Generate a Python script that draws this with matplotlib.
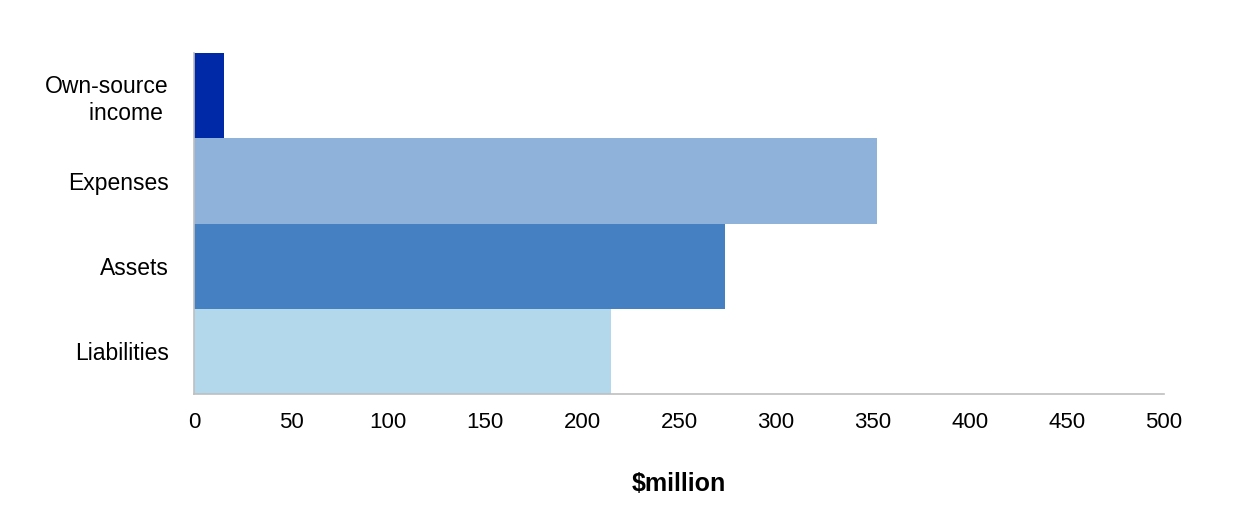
import matplotlib.pyplot as plt

categories = ['Own-source\nincome ', 'Expenses', 'Assets', 'Liabilities']
values = [15.5, 352, 273.5, 215]
colors = ['#0029A8', '#8FB2DA', '#4580C2', '#B3D8EC']
xticks = [0, 50, 100, 150, 200, 250, 300, 350, 400, 450, 500]

plt.rcParams['font.family'] = ['Liberation Sans', 'DejaVu Sans']

fig = plt.figure(figsize=(12.36, 5.27), dpi=100)
ax = fig.add_axes([194 / 1236, 1 - 394 / 527, 970 / 1236, 341 / 527])

pos = list(range(len(categories)))
ax.barh(pos, values, height=1.0, color=colors, edgecolor='none')
ax.set_ylim(len(categories) - 0.5, -0.5)
ax.set_xlim(0, 500)
ax.set_xticks(xticks)
ax.set_yticks(pos)
ax.set_yticklabels(categories, multialignment='right', fontsize=16.5)

for s in ['top', 'right']:
    ax.spines[s].set_visible(False)
for s in ['left', 'bottom']:
    ax.spines[s].set_color('#BFBFBF')
    ax.spines[s].set_linewidth(1.2)

ax.tick_params(axis='both', length=0)
ax.tick_params(axis='x', pad=13, labelsize=16)
ax.tick_params(axis='y', pad=18)
ax.set_xlabel('\\$million', fontsize=18, fontweight='bold', labelpad=28)

fig.savefig('out.png', dpi=100)
